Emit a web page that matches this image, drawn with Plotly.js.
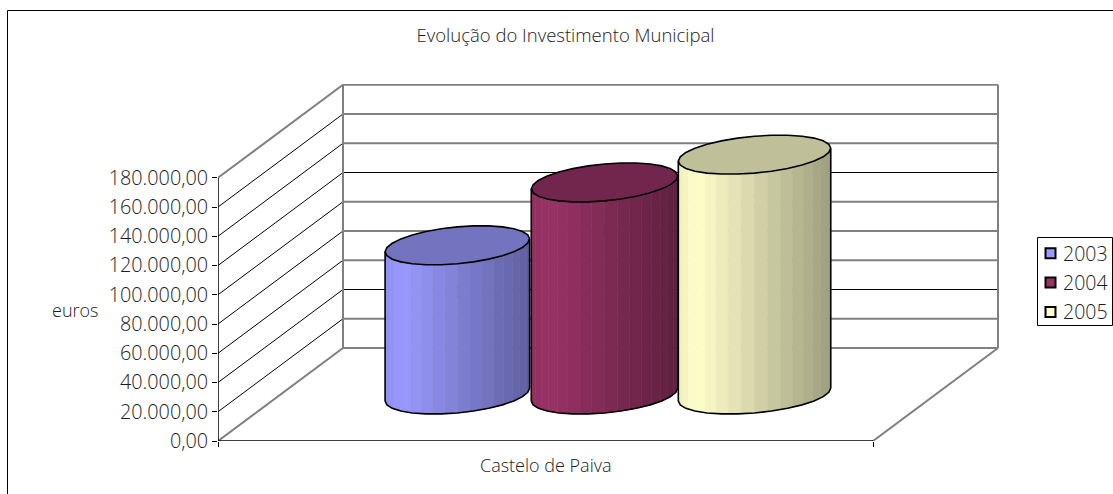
<!DOCTYPE html>
<html><head><meta charset="utf-8">
<script src="https://cdn.plot.ly/plotly-3.0.1.min.js"></script>
<style>html,body{margin:0;padding:0;background:#fff}#c{width:1113px;height:494px}</style>
</head><body><div id="c"></div>
<script>
// ---- data ----
const chartTitle = 'Evolução do Investimento Municipal';
const category = 'Castelo de Paiva';
const unitLabel = 'euros';
const seriesNames = ['2003', '2004', '2005'];
const seriesValues = [102000, 145000, 164000];
const tickValues = [0, 20000, 40000, 60000, 80000, 100000, 120000, 140000, 160000, 180000];
const tickLabels = ['0,00', '20.000,00', '40.000,00', '60.000,00', '80.000,00', '100.000,00', '120.000,00', '140.000,00', '160.000,00', '180.000,00'];

// ---- style and geometry of the pseudo-3D box ----
const baseColors = [[153,153,255],[153,51,102],[255,255,204]];
const slotCenter = [0.27, 0.4947, 0.7237];   // front-floor position of each column
const slotHalf = [0.1107, 0.1122, 0.1168];   // half width of each column (axis units)
const DEPTH_X = 125 / 655, DEPTH_Y = 93 / 29.25 * 20000; // the depth vector
const X_MAX = 781 / 655, Y_MAX = 357 / 29.25 * 20000;
const RX = 0.94, SX = 0.33, SY = 0.21;     // ellipse shape in floor space

const rgb = (c, k) => `rgb(${c.map(v => Math.round(v * k)).join(',')})`;
const FONT = '"Open Sans", sans-serif', TXT = '#1c1c1c', W = 300;
const traces = [];
const line = (xs, ys, color, width) => traces.push({type:'scatter', mode:'lines', x:xs, y:ys,
  line:{color, width}, hoverinfo:'skip', showlegend:false, cliponaxis:false});

// walls
const gx = [], gy = [], bx = [], by = [];
tickValues.forEach((v, i) => {
  const dx = [0, DEPTH_X, null], dy = [v, v + DEPTH_Y, null];
  if (i === 0 || i === tickValues.length - 1) { gx.push(...dx); gy.push(...dy); }
  else { bx.push(...dx); by.push(...dy); }
  const wx = [DEPTH_X, 1 + DEPTH_X, null], wy = [v + DEPTH_Y, v + DEPTH_Y, null];
  if (i === 0 || i % 2 === 1) { gx.push(...wx); gy.push(...wy); }
  else { bx.push(...wx); by.push(...wy); }
});
const topV = tickValues[tickValues.length - 1];
gx.push(DEPTH_X, DEPTH_X, null, 1 + DEPTH_X, 1 + DEPTH_X, null, 1, 1 + DEPTH_X);
gy.push(DEPTH_Y, topV + DEPTH_Y, null, DEPTH_Y, topV + DEPTH_Y, null, 0, DEPTH_Y);
line(bx, by, '#000', 1);
line(gx, gy, '#808080', 2);
line([0, 0], [0, topV], '#000', 1.5);
line([0, 1], [0, 0], '#000', 1.5);

// columns
const N = 28;
seriesValues.forEach((val, s) => {
  const c = slotCenter[s], h = slotHalf[s], col = baseColors[s], name = seriesNames[s];
  const px = t => c + DEPTH_X / 2 + h * (RX * Math.cos(t) + SX * Math.sin(t));
  const py = (t, v) => v + DEPTH_Y / 2 + DEPTH_Y * SY * Math.sin(t);
  const t0 = Math.atan2(SX, RX);            // right-hand x extreme
  // the legend marker sits at the value, under the column
  traces.push({type:'scatter', mode:'markers', x:[c + DEPTH_X / 2], y:[val], name,
    legendgroup:name, marker:{symbol:'square', size:10, color:rgb(col, 1), line:{color:'#000', width:2}},
    hoverinfo:'name+y', cliponaxis:false});
  // front face, in vertical strips (from left extreme round the front to right extreme)
  const M = 18;
  for (let i = 0; i < M; i++) {
    const a = t0 + Math.PI + i * Math.PI / M, b = t0 + Math.PI + (i + 1) * Math.PI / M;
    const x0 = px(a), x1 = px(b);
    const f = (0.5 * (x0 + x1) - (c + DEPTH_X / 2 - h)) / (2 * h);
    const k = f < 0.12 ? 0.93 + 0.07 * f / 0.12 : 1 - 0.38 * (f - 0.12) / 0.88;
    traces.push({type:'scatter', mode:'lines', x:[x0, x1, x1, x0, x0],
      y:[py(a, 0), py(b, 0), py(b, val), py(a, val), py(a, 0)],
      fill:'toself', fillcolor:rgb(col, k), line:{width:0.6, color:rgb(col, k)},
      hoverinfo:'skip', showlegend:false, cliponaxis:false});
  }
  // top ellipse and outline
  const tx = [], ty = [];
  for (let i = 0; i <= N; i++) { const t = i * 2 * Math.PI / N; tx.push(px(t0 + t)); ty.push(py(t0 + t, val)); }
  traces.push({type:'scatter', mode:'lines', x:tx, y:ty, fill:'toself', fillcolor:rgb(col, 0.75),
    line:{color:'#000', width:1.6}, hoverinfo:'skip', showlegend:false, cliponaxis:false});
  const ox = [px(t0 + Math.PI)], oy = [py(t0 + Math.PI, val)];
  for (let i = 0; i <= N / 2; i++) { const t = t0 + Math.PI + i * 2 * Math.PI / N; ox.push(px(t)); oy.push(py(t, 0)); }
  ox.push(px(t0)); oy.push(py(t0, val));
  line(ox, oy, '#000', 1.6);
});

const PW = 781, PH = 357;
const layout = {
  width:1113, height:494, paper_bgcolor:'#fff', plot_bgcolor:'rgba(0,0,0,0)',
  margin:{l:218, r:114, t:84, b:53, autoexpand:false},
  title:{text:chartTitle, x:565.5/1113, xref:'container', xanchor:'center', y:1-36/494, yref:'container', yanchor:'middle',
    font:{family:FONT, size:18.5, color:TXT, weight:W}},
  xaxis:{range:[0, X_MAX], tickvals:[0, 1], ticktext:['', ''], ticks:'outside', ticklen:5, tickcolor:'#000', tickwidth:1,
    showgrid:false, zeroline:false, showline:false, fixedrange:true},
  yaxis:{range:[0, Y_MAX], tickvals:tickValues, ticktext:tickLabels, ticks:'outside', ticklen:5, tickcolor:'#000', tickwidth:1,
    showgrid:false, zeroline:false, showline:false, fixedrange:true, tickfont:{family:FONT, size:19.8, color:TXT, weight:W}},
  legend:{x:(1023-218)/PW, xanchor:'left', y:1-(234-84)/PH, yanchor:'top', bgcolor:'rgba(0,0,0,0)', borderwidth:0,
    font:{family:FONT, size:19.5, color:TXT, weight:W}, itemwidth:30, tracegroupgap:1, traceorder:'grouped', itemclick:false, itemdoubleclick:false},
  annotations:[
    {text:category, xref:'x', x:0.5, yref:'paper', y:-(465-441)/PH, xanchor:'center', yanchor:'middle', showarrow:false, font:{family:FONT, size:18, color:TXT, weight:W}},
    {text:unitLabel, xref:'paper', x:(75-218)/PW, yref:'paper', y:1-(310-84)/PH, xanchor:'center', yanchor:'middle', showarrow:false, font:{family:FONT, size:18, color:TXT, weight:W}}
  ],
  shapes:[
    {type:'line', xref:'paper', yref:'paper', x0:(7.5-218)/PW, x1:(1113-218)/PW, y0:1+(84-10.5)/PH, y1:1+(84-10.5)/PH, line:{color:'#000', width:1}},
    {type:'line', xref:'paper', yref:'paper', x0:(7.5-218)/PW, x1:(7.5-218)/PW, y0:1+(84-10.5)/PH, y1:-53/PH, line:{color:'#000', width:1}},
    {type:'rect', xref:'paper', yref:'paper', x0:(1037.5-218)/PW, x1:(1112.5-218)/PW, y0:1-(237.5-84)/PH, y1:1-(325.5-84)/PH, line:{color:'#000', width:1}, fillcolor:'#fff'}
  ],
  showlegend:true
};
Plotly.newPlot('c', traces, layout, {displayModeBar:false, staticPlot:true}).then(() => {
  // tighten the legend keys to the reference's narrow spacing
  document.querySelectorAll('.legend .legendpoints path').forEach(p => p.setAttribute('transform', 'translate(27.5,0)'));
});
</script></body></html>
